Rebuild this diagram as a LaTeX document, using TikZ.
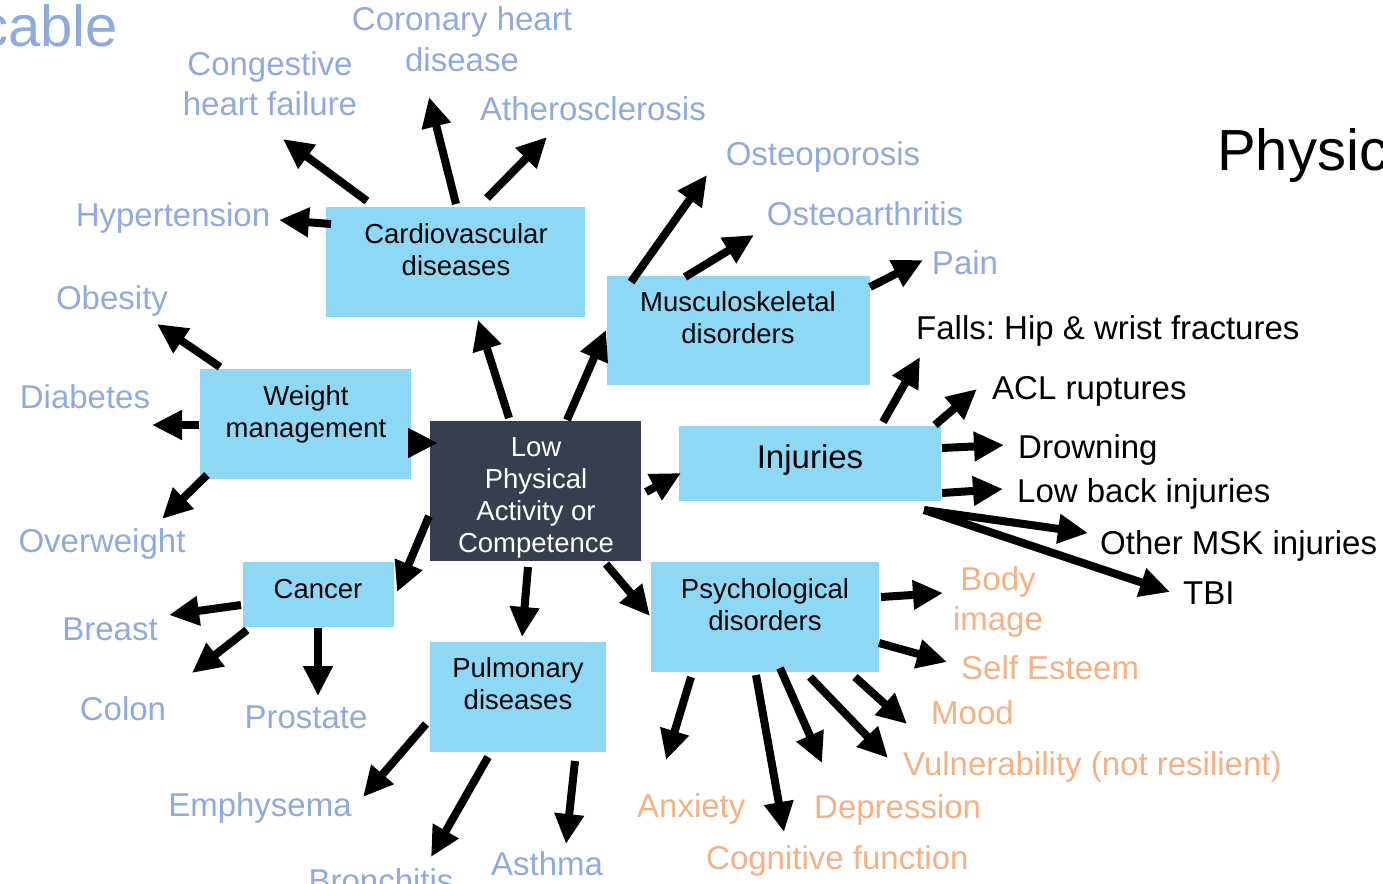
\documentclass[tikz,border=0pt]{standalone}
\usepackage{fontspec}
\setmainfont{Liberation Sans}
\usetikzlibrary{arrows.meta}
\definecolor{causeblue}{HTML}{8FAADC}
\definecolor{psyorange}{HTML}{F4B183}
\definecolor{boxsky}{HTML}{8DD9F5}
\definecolor{boxdark}{HTML}{353F4F}
\frenchspacing
\begin{document}
\begin{tikzpicture}[x=1pt,y=-1pt,
  arr/.style={line width=8pt,-{Triangle[length=30pt,width=28pt]}},
  box/.style={fill=boxsky,inner sep=0pt,anchor=north west},
  boxtext/.style={font=\fontsize{27.5}{32}\selectfont,align=center,anchor=base,inner sep=0pt},
  lab/.style={font=\fontsize{33}{40}\selectfont,inner sep=0pt,anchor=base},
  bluelab/.style={lab,text=causeblue,align=center},
  blacklab/.style={lab,anchor=base west},
  orangelab/.style={lab,text=psyorange,anchor=base west},
  title/.style={font=\fontsize{58}{64}\selectfont,inner sep=0pt}
]
\useasboundingbox (0,0) rectangle (1383,883);

% headings at the edges
\node[title,text=causeblue,anchor=base east] (lefthead) at (118,47) {cable};
\node[title,anchor=base west] (righthead) at (1217,170) {Physic};

% category boxes
\node[box,minimum width=259pt,minimum height=110pt] (cvd) at (326,207) {};
\node[box,minimum width=263pt,minimum height=109pt] (msk) at (607,276) {};
\node[box,minimum width=211pt,minimum height=110pt] (wm) at (200,369) {};
\node[box,fill=boxdark,minimum width=211pt,minimum height=140pt] (low) at (430,421) {};
\node[box,minimum width=262pt,minimum height=75pt] (inj) at (679,426) {};
\node[box,minimum width=151pt,minimum height=65pt] (can) at (243,562) {};
\node[box,minimum width=176pt,minimum height=110pt] (pul) at (430,642) {};
\node[box,minimum width=228pt,minimum height=110pt] (psy) at (651,562) {};

% box captions (base anchor sits on the last line)
\node[boxtext] (cvd-t) at (456,275) {Cardiovascular\\diseases};
\node[boxtext] (msk-t) at (738,343) {Musculoskeletal\\disorders};
\node[boxtext] (wm-t) at (306,437) {Weight\\management};
\node[boxtext,text=white] (low-t) at (536,552) {Low\\Physical\\Activity or\\Competence};
\node[lab] (inj-t) at (810,468) {Injuries};
\node[boxtext] (can-t) at (318,598) {Cancer};
\node[boxtext] (pul-t) at (518,709) {Pulmonary\\diseases};
\node[boxtext] (psy-t) at (765,630) {Psychological\\disorders};

% outcome labels
\node[bluelab] (chd) at (462,71) {Coronary heart\\disease};
\node[bluelab] (chf) at (270,115) {Congestive\\heart failure};
\node[bluelab] (ath) at (593,120) {Atherosclerosis};
\node[bluelab] (osp) at (823,165) {Osteoporosis};
\node[bluelab] (osa) at (865,225) {Osteoarthritis};
\node[bluelab] (pain) at (965,274) {Pain};
\node[bluelab] (hyp) at (173,226) {Hypertension};
\node[bluelab] (obe) at (112,309) {Obesity};
\node[bluelab] (dia) at (85,408) {Diabetes};
\node[bluelab] (ovw) at (102,552) {Overweight};
\node[bluelab] (bre) at (110,640) {Breast};
\node[bluelab] (col) at (123,720) {Colon};
\node[bluelab] (pro) at (306,728) {Prostate};
\node[bluelab] (emp) at (260,816) {Emphysema};
\node[bluelab] (bro) at (381,892) {Bronchitis};
\node[bluelab] (ast) at (547,875) {Asthma};

\node[blacklab] (fall) at (916,339) {Falls: Hip \& wrist fractures};
\node[blacklab] (acl) at (992,399) {ACL ruptures};
\node[blacklab] (drn) at (1018,458) {Drowning};
\node[blacklab] (lbi) at (1017,502) {Low back injuries};
\node[blacklab] (omsk) at (1100,554) {Other MSK injuries};
\node[blacklab] (tbi) at (1183,604) {TBI};

\node[lab,text=psyorange,align=center] (body) at (998,630) {Body\\image};
\node[orangelab] (est) at (961,679) {Self Esteem};
\node[orangelab] (mood) at (931,724) {Mood};
\node[orangelab] (vul) at (903,775) {Vulnerability (not resilient)};
\node[orangelab] (anx) at (637,817) {Anxiety};
\node[orangelab] (dep) at (814,818) {Depression};
\node[orangelab] (cog) at (706,869) {Cognitive function};

% connector end points
\coordinate (cvd-chf-a) at (367,201); \coordinate (cvd-chf-b) at (283,139);
\coordinate (cvd-chd-a) at (456,204); \coordinate (cvd-chd-b) at (429,97);
\coordinate (cvd-ath-a) at (487,198); \coordinate (cvd-ath-b) at (547,137);
\coordinate (cvd-hyp-a) at (331,224); \coordinate (cvd-hyp-b) at (279,220);
\coordinate (low-cvd-a) at (509,418); \coordinate (low-cvd-b) at (478,320);
\coordinate (low-msk-a) at (567,420); \coordinate (low-msk-b) at (606,330);
\coordinate (low-wm-a) at (408,443); \coordinate (low-wm-b) at (438,443);
\coordinate (low-inj-a) at (646,492); \coordinate (low-inj-b) at (681,473);
\coordinate (low-can-a) at (429,516); \coordinate (low-can-b) at (397,592);
\coordinate (low-pul-a) at (528,567); \coordinate (low-pul-b) at (522,637);
\coordinate (low-psy-a) at (606,564); \coordinate (low-psy-b) at (650,616);
\coordinate (msk-osp-a) at (631,282); \coordinate (msk-osp-b) at (707,175);
\coordinate (msk-osa-a) at (685,277); \coordinate (msk-osa-b) at (754,235);
\coordinate (msk-pain-a) at (870,287); \coordinate (msk-pain-b) at (923,260);
\coordinate (wm-obe-a) at (220,367); \coordinate (wm-obe-b) at (157,324);
\coordinate (wm-dia-a) at (199,425); \coordinate (wm-dia-b) at (152,425);
\coordinate (wm-ovw-a) at (207,475); \coordinate (wm-ovw-b) at (162,519);
\coordinate (can-bre-a) at (241,605); \coordinate (can-bre-b) at (169,615);
\coordinate (can-col-a) at (247,630); \coordinate (can-col-b) at (192,673);
\coordinate (can-pro-a) at (318,628); \coordinate (can-pro-b) at (318,696);
\coordinate (pul-emp-a) at (426,724); \coordinate (pul-emp-b) at (363,797);
\coordinate (pul-bro-a) at (488,757); \coordinate (pul-bro-b) at (431,857);
\coordinate (pul-ast-a) at (575,761); \coordinate (pul-ast-b) at (566,844);
\coordinate (inj-fall-a) at (883,422); \coordinate (inj-fall-b) at (920,357);
\coordinate (inj-acl-a) at (935,425); \coordinate (inj-acl-b) at (977,389);
\coordinate (inj-drn-a) at (942,448); \coordinate (inj-drn-b) at (1004,445);
\coordinate (inj-lbi-a) at (942,493); \coordinate (inj-lbi-b) at (1003,489);
\coordinate (inj-low-a) at (924,510);
\coordinate (inj-omsk-b) at (1088,533);
\coordinate (inj-tbi-b) at (1170,592);
\coordinate (psy-body-a) at (881,597); \coordinate (psy-body-b) at (943,593);
\coordinate (psy-est-a) at (879,643); \coordinate (psy-est-b) at (947,662);
\coordinate (psy-mood-a) at (855,677); \coordinate (psy-mood-b) at (907,724);
\coordinate (psy-vul-a) at (810,677); \coordinate (psy-vul-b) at (888,758);
\coordinate (psy-dep-a) at (780,668); \coordinate (psy-dep-b) at (822,763);
\coordinate (psy-cog-a) at (756,675); \coordinate (psy-cog-b) at (784,832);
\coordinate (psy-anx-a) at (691,677); \coordinate (psy-anx-b) at (666,760);

% connectors
\foreach \c in {cvd-chf,cvd-chd,cvd-ath,cvd-hyp,
                low-cvd,low-msk,low-wm,low-inj,low-can,low-pul,low-psy,
                msk-osp,msk-osa,msk-pain,
                wm-obe,wm-dia,wm-ovw,
                can-bre,can-col,can-pro,
                pul-emp,pul-bro,pul-ast,
                inj-fall,inj-acl,inj-drn,inj-lbi,
                psy-body,psy-est,psy-mood,psy-vul,psy-dep,psy-cog,psy-anx}
  \draw[arr] (\c-a) -- (\c-b);
\draw[arr] (inj-low-a) -- (inj-omsk-b);
\draw[arr] (inj-low-a) -- (inj-tbi-b);
\end{tikzpicture}
\end{document}
